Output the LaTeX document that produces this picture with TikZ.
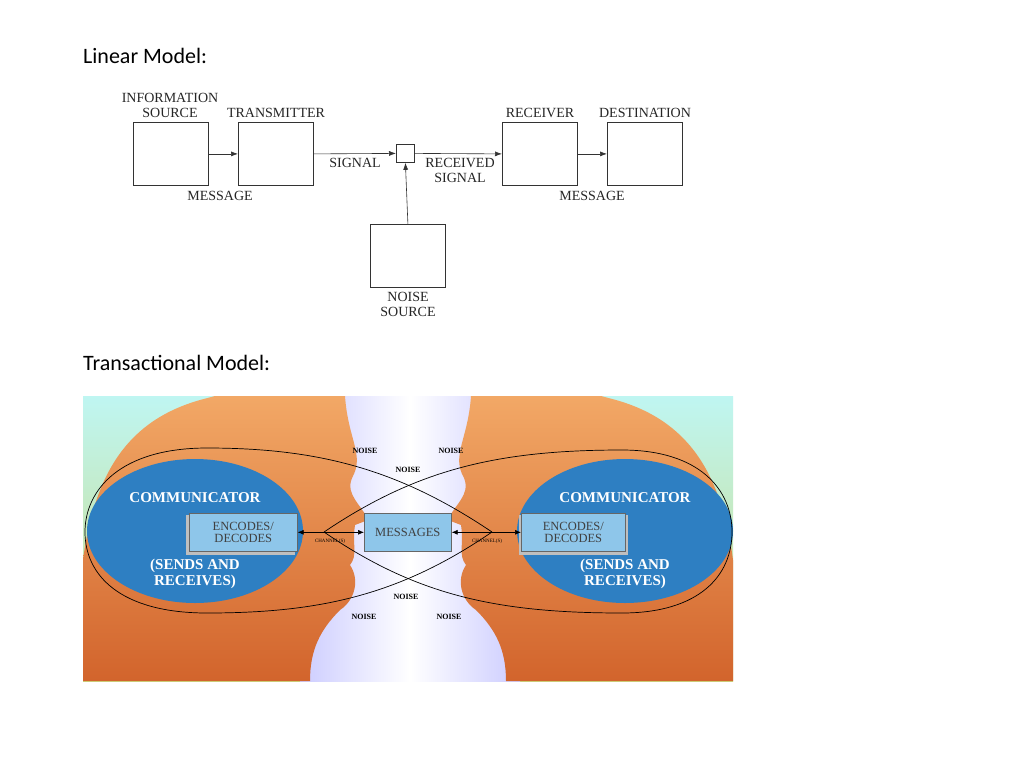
\documentclass[tikz,border=0pt]{standalone}
\usepackage{fontspec}
\setmainfont{Liberation Serif}
\newfontfamily\calib{Carlito}
\usetikzlibrary{arrows.meta}
\definecolor{cblue}{HTML}{2E7FC2}
\definecolor{bbl}{HTML}{8EC6EA}
\definecolor{peach}{HTML}{F2A866}
\definecolor{rust}{HTML}{D2642C}
\definecolor{bgg}{HTML}{9FD8C8}
\begin{document}
\begin{tikzpicture}[x=1pt,y=-1pt,
  blk/.style={draw=black!80,line width=0.8pt,minimum width=75pt,minimum height=63pt,anchor=north west,inner sep=0},
  lab/.style={font=\fontsize{14}{15}\selectfont,text=black!85,inner sep=0},
  arr/.style={-{Latex[length=7pt,width=5pt]},line width=0.6pt,draw=black!80},
  ttl/.style={font=\calib\fontsize{22}{24}\selectfont,anchor=west,inner sep=0},
  bbox/.style={draw=black!60,fill=bbl,line width=0.6pt,inner sep=0,anchor=north west,minimum height=38pt,font=\fontsize{12.5}{12.5}\selectfont,align=center,text=black!75},
  wt/.style={text=white,font=\bfseries\fontsize{15}{16}\selectfont,inner sep=0},
  noise/.style={font=\bfseries\fontsize{8}{8}\selectfont,inner sep=0},
  darr/.style={{Latex[length=6pt,width=5pt]}-{Latex[length=6pt,width=5pt]},line width=0.7pt}]
\useasboundingbox (0,0) rectangle (1024,771);
\fill[white] (0,0) rectangle (1024,771);
% titles
\node[ttl] (t1) at (83,56) {Linear Model:};
\node[ttl] (t2) at (83,363) {Transactional Model:};
% linear model
\node[blk] (is) at (133,122) {};
\node[blk] (tr) at (238,122) {};
\node[blk,minimum width=18pt,minimum height=18pt] (mx) at (396,144) {};
\node[blk] (rc) at (502,122) {};
\node[blk] (ds) at (607,122) {};
\node[blk] (ns) at (370,224) {};
\draw[arr] (is.east) -- (tr.west);
\draw[arr] (tr.east) -- (mx.west);
\draw[arr] (mx.east) -- (rc.west);
\draw[arr] (rc.east) -- (ds.west);
\draw[arr] (ns.north) -- (mx.south);
\node[lab] (l1) at (170,98) {INFORMATION};
\node[lab] (l2) at (170,113) {SOURCE};
\node[lab] (l3) at (276,113) {TRANSMITTER};
\node[lab] (l4) at (540,113) {RECEIVER};
\node[lab] (l5) at (645,113) {DESTINATION};
\node[lab] (l6) at (355,163) {SIGNAL};
\node[lab] (l7) at (460,163) {RECEIVED};
\node[lab] (l8) at (460,178) {SIGNAL};
\node[lab] (l9) at (220,196) {MESSAGE};
\node[lab] (l10) at (592,196) {MESSAGE};
\node[lab] (l11) at (408,297) {NOISE};
\node[lab] (l12) at (408,312) {SOURCE};
% transactional background
\begin{scope}
\clip (83,396) rectangle (733,681);
\shade[top color=bgg!60!cyan!40,bottom color=green!40!orange!50!white] (83,396) rectangle (733,681);
\shade[left color=blue!20!white,right color=blue!20!white,middle color=white] (300,396) rectangle (520,681);
\shade[top color=peach,bottom color=rust]
  (83,681) -- (83,560) .. controls (95,470) and (130,420) .. (200,400) -- (215,396) -- (345,396)
  .. controls (348,440) and (365,455) .. (352,478) .. controls (345,495) and (362,505) .. (368,520)
  -- (355,525) .. controls (352,545) and (358,555) .. (350,565) .. controls (360,580) and (355,600) .. (340,610)
  .. controls (320,630) and (310,650) .. (310,681) -- cycle;
\shade[top color=peach,bottom color=rust]
  (733,681) -- (733,560) .. controls (721,470) and (686,420) .. (616,400) -- (601,396) -- (471,396)
  .. controls (468,440) and (451,455) .. (464,478) .. controls (471,495) and (454,505) .. (448,520)
  -- (461,525) .. controls (464,545) and (458,555) .. (466,565) .. controls (456,580) and (461,600) .. (476,610)
  .. controls (496,630) and (506,650) .. (506,681) -- cycle;
\fill[cblue] (195,531) ellipse [x radius=108pt,y radius=72pt];
\fill[cblue] (625,531) ellipse [x radius=108pt,y radius=72pt];
\draw[line width=0.7pt] (492,532) .. controls (400,470) and (320,448) .. (207,448)
   .. controls (120,448) and (85,490) .. (85,532) .. controls (85,575) and (120,613) .. (207,613)
   .. controls (320,613) and (400,595) .. (492,532);
\draw[line width=0.7pt] (324,532) .. controls (416,470) and (496,450) .. (622,450)
   .. controls (700,450) and (732,490) .. (732,532) .. controls (732,575) and (700,613) .. (622,613)
   .. controls (496,613) and (416,595) .. (324,532);
\end{scope}
\node[wt] (c1) at (195,498) {COMMUNICATOR};
\node[wt] (c2) at (195,566) {(SENDS AND};
\node[wt] (c3) at (195,582) {RECEIVES)};
\node[wt] (c4) at (625,498) {COMMUNICATOR};
\node[wt] (c5) at (625,566) {(SENDS AND};
\node[wt] (c6) at (625,582) {RECEIVES)};
\fill[black!25] (186,515) rectangle (295,555);
\node[bbox,minimum width=108pt] (e1) at (189,513) {ENCODES/\\DECODES};
\node[bbox,minimum width=87pt] (ms) at (364,513) {MESSAGES};
\fill[black!25] (519,515) rectangle (628,555);
\node[bbox,minimum width=104pt] (e2) at (521,513) {ENCODES/\\DECODES};
\draw[darr] (e1.east) -- (ms.west);
\draw[darr] (ms.east) -- (e2.west);
\node[font=\fontsize{5}{5}\selectfont,inner sep=0] (ch1) at (330,541) {CHANNEL(S)};
\node[font=\fontsize{5}{5}\selectfont,inner sep=0] (ch2) at (487,541) {CHANNEL(S)};
\node[noise] (n1) at (365,451) {NOISE};
\node[noise] (n2) at (451,451) {NOISE};
\node[noise] (n3) at (408,470) {NOISE};
\node[noise] (n4) at (406,597) {NOISE};
\node[noise] (n5) at (364,617) {NOISE};
\node[noise] (n6) at (449,617) {NOISE};
\end{tikzpicture}
\end{document}
